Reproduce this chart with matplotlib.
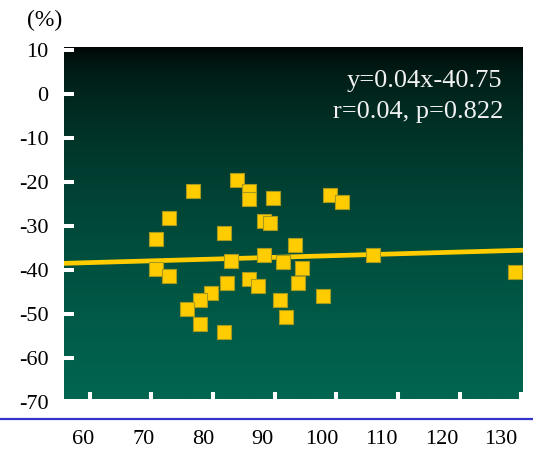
import matplotlib
matplotlib.use("Agg")
import matplotlib.pyplot as plt
from matplotlib.lines import Line2D
import numpy as np

plt.rcParams['font.family'] = ['Liberation Serif', 'DejaVu Serif']

# measurements (x) vs change in % (y)
x_vals = [76.8, 83.8, 85.8, 85.8, 89.8, 98.9, 100.9, 72.8, 70.7, 81.8, 88.3,
          89.3, 93.3, 82.9, 88.3, 91.3, 94.4, 70.7, 72.8, 82.2, 85.8, 87.3,
          93.8, 97.8, 79.7, 77.8, 75.7, 90.8, 77.8, 91.8, 81.8, 106.0, 129.0]
y_vals = [-22.0, -19.7, -22.2, -23.9, -23.6, -23.1, -24.7, -28.2, -32.9, -31.7,
          -29.0, -29.4, -34.4, -37.9, -36.6, -38.3, -39.6, -39.8, -41.4, -42.9,
          -42.1, -43.7, -42.9, -45.9, -45.3, -46.8, -48.8, -46.8, -52.3, -50.7,
          -54.2, -36.6, -40.5]

slope = 0.04
intercept = -40.75
r_val = 0.04
p_val = 0.822

x_ticks = [60, 70, 80, 90, 100, 110, 120, 130]
y_ticks = [10, 0, -10, -20, -30, -40, -50, -60, -70]
y_ticklabels = ['10', '0', '-10', '-20', '-30', '-40', '-50', '-60', '-70']

xmin, xmax = 55.8, 130.3
ymin, ymax = -69.4, 10.6

fig = plt.figure(figsize=(5.33, 4.49), dpi=100)
ax = fig.add_axes([0.1201, 0.1047, 0.8611, 0.7906])
ax.set_xlim(xmin, xmax)
ax.set_ylim(ymin, ymax)

# dark-to-green vertical gradient behind the data
t = np.linspace(0, 1, 256) ** 0.5
top = np.array([0.0, 0.0, 0.0])
bottom = np.array([0.0, 0.40, 0.315])
grad = top[None, :] + t[:, None] * (bottom - top)[None, :]
grad = np.repeat(grad[:, None, :], 2, axis=1)
ax.imshow(grad, extent=[xmin, xmax, ymin, ymax], aspect='auto',
          origin='upper', zorder=0, interpolation='bilinear')

# regression line
lx = np.array([xmin, xmax])
ax.plot(lx, slope * lx + intercept, color='#ffcc00', lw=3.4, zorder=2,
        solid_capstyle='butt')

ax.scatter(x_vals, y_vals, marker='s', s=100, color='#ffcc00',
           edgecolors='#a89a1c', linewidths=0.8, zorder=3)

ax.text(0.955, 0.903, 'y=%.2fx%.2f' % (slope, intercept), transform=ax.transAxes,
        ha='right', va='center', color='#f2f2f2', fontsize=19)
ax.text(0.957, 0.818, 'r=%.2f, p=%.3f' % (r_val, p_val), transform=ax.transAxes,
        ha='right', va='center', color='#f2f2f2', fontsize=19)

for s in ax.spines.values():
    s.set_visible(False)

ax.set_xticks(x_ticks)
ax.set_xticklabels([])
ax.set_yticks(y_ticks)
ax.set_yticklabels(y_ticklabels)
ax.tick_params(axis='both', direction='in', color='white', length=7.2,
               width=2.9, labelsize=16, labelcolor='black')
ax.tick_params(axis='y', pad=11)

# x labels sit on their own, slightly tighter scale below the rule
lab = ax.twiny()
lab.set_xlim(56.73, 133.69)
lab.xaxis.set_ticks_position('bottom')
lab.set_xticks(x_ticks)
lab.set_xticklabels([str(v) for v in x_ticks])
lab.tick_params(axis='x', length=0, pad=20, labelsize=16)
for s in lab.spines.values():
    s.set_visible(False)

# blue rule across the figure below the plot
fig.add_artist(Line2D([0, 1], [1 - 419 / 449, 1 - 419 / 449],
                      transform=fig.transFigure, color='#3333cc', lw=1.6))

fig.text(27 / 533, 1 - 20 / 449, '(%)', ha='left', va='center', fontsize=17)

fig.savefig('out.png', dpi=100)
